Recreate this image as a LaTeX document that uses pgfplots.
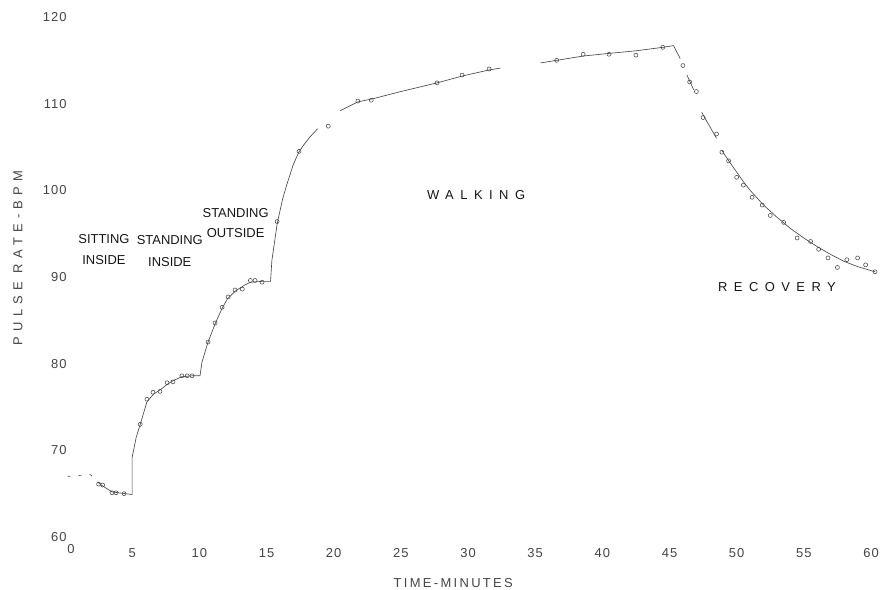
\documentclass[border=0pt]{standalone}
\usepackage{pgfplots}
\pgfplotsset{compat=1.18}
\usepackage{fontspec}
\setmainfont{Liberation Sans}
\definecolor{tickc}{HTML}{444444}
\definecolor{linec}{HTML}{484848}
\definecolor{textc}{HTML}{151515}
\newcommand{\lab}{\fontsize{13}{15}\selectfont}
\begin{document}
\begin{tikzpicture}
\useasboundingbox (0,0) rectangle (883bp,590bp);
\begin{axis}[
  at={(65bp,53bp)}, anchor=south west,
  scale only axis, width=806bp, height=520bp,
  xmin=0, xmax=60, ymin=60, ymax=120,
  axis line style={draw=none},
  tick style={draw=none},
  xtick={5,10,...,60}, ytick={60,70,...,120},
  extra x ticks={0},
  extra x tick style={xticklabel style={yshift=4bp, xshift=6bp}},
  /pgf/number format/assume math mode=true,
  ticklabel style={font=\lab\addfontfeature{LetterSpace=8}, text=tickc},
  xticklabel style={yshift=-8bp},
  yticklabel style={xshift=5bp},
  clip=false,
]
% traced curve
\addplot[linec, line width=0.65bp, dash pattern=on 3bp off 8bp] coordinates {
(0.2,67.0) (1.9,67.2) (2.6,66.1)};
\addplot[linec, line width=0.65bp] coordinates {
(2.6,66.1) (3.5,65.2) (4.5,65.0) (5.0,64.9) (5.0,69.2) (5.3,71.5) (5.6,73.0)
(6.1,75.6) (6.6,76.5) (7.1,77.0) (7.6,77.6) (8.0,78.0) (8.7,78.5) (9.5,78.6)
(10.05,78.6) (10.2,80.2) (10.65,82.5) (11.2,84.7) (11.7,86.4) (12.1,87.5)
(12.7,88.4) (13.3,89.0) (13.8,89.4) (14.7,89.5) (15.3,89.5) (15.4,91.9)
(15.8,96.2) (16.2,99.0) (16.5,100.6) (17.0,103.0) (17.4,104.4) (17.8,105.3)
(18.2,106.1) (18.8,107.1)};
\addplot[linec, line width=0.65bp] coordinates {
(20.5,109.2) (21.8,110.2) (23,110.6) (25,111.4) (27.7,112.4) (29.6,113.2)
(31.6,113.9) (32.4,114.1)};
\addplot[linec, line width=0.65bp] coordinates {
(35.4,114.7) (36.6,115.0) (38.6,115.5) (40.5,115.8) (42.5,116.1) (44.5,116.5)
(45.3,116.7) (45.8,115.2)};
\addplot[linec, line width=0.65bp] coordinates {(46.3,113.3) (46.8,111.6)};
\addplot[linec, line width=0.65bp] coordinates {(47.4,109.0) (48.5,106.0)};
\addplot[linec, line width=0.65bp] coordinates {
(48.9,104.6) (49.5,103.2) (50,102.1) (50.5,101.0) (51,100.0) (52,98.3)
(53,96.9) (54,95.6) (55,94.5) (56,93.5) (57,92.6) (58,91.8) (59,91.2) (60.3,90.6)};
% observations
\addplot[only marks, mark=o, mark size=2bp, mark options={linec, line width=0.55bp}] coordinates {
(2.5,66.1) (2.8,66.0) (3.5,65.1) (3.8,65.1) (4.4,65.0)
(5.6,73.0) (6.1,75.9) (6.55,76.7) (7.07,76.8) (7.6,77.8) (8.04,77.9)
(8.7,78.6) (9.1,78.6) (9.46,78.6)
(10.65,82.5) (11.17,84.7) (11.7,86.5) (12.14,87.7) (12.66,88.5) (13.2,88.6)
(13.8,89.6) (14.15,89.6) (14.67,89.4)
(15.79,96.4) (17.42,104.5) (19.6,107.4) (21.8,110.3) (22.8,110.4)
(27.7,112.4) (29.56,113.3) (31.57,114.0)
(36.6,115.0) (38.57,115.7) (40.5,115.7) (42.5,115.6) (44.5,116.5)
(46.0,114.4) (46.5,112.5) (47.0,111.4) (47.5,108.4) (48.5,106.5)
(48.9,104.4) (49.4,103.4) (50.0,101.5) (50.5,100.6) (51.15,99.2) (51.9,98.3)
(52.5,97.1) (53.5,96.3) (54.5,94.5) (55.5,94.1) (56.1,93.2) (56.8,92.2)
(57.5,91.1) (58.2,92.0) (59.0,92.2) (59.6,91.4) (60.3,90.6)};
% annotations
\node[font=\lab, text=textc] at (axis cs:2.9,94.4) {SITTING};
\node[font=\lab, text=textc] at (axis cs:2.9,92.0) {INSIDE};
\node[font=\lab, text=textc] at (axis cs:7.8,94.3) {STANDING};
\node[font=\lab, text=textc] at (axis cs:7.8,91.7) {INSIDE};
\node[font=\lab, text=textc] at (axis cs:12.7,97.4) {STANDING};
\node[font=\lab, text=textc] at (axis cs:12.7,95.1) {OUTSIDE};
\node[font=\lab\addfontfeature{LetterSpace=50}, text=textc] at (axis cs:30.6,99.45) {WALKING};
\node[font=\lab\addfontfeature{LetterSpace=50}, text=textc] at (axis cs:53.0,88.8) {RECOVERY};
\node[font=\lab\addfontfeature{LetterSpace=18}, text=tickc] at (axis cs:28.9,54.7) {TIME-MINUTES};
\node[font=\lab\addfontfeature{LetterSpace=40}, text=tickc, rotate=90] at (axis cs:-3.5,92.2) {PULSE RATE-BPM};
\end{axis}
\end{tikzpicture}
\end{document}
